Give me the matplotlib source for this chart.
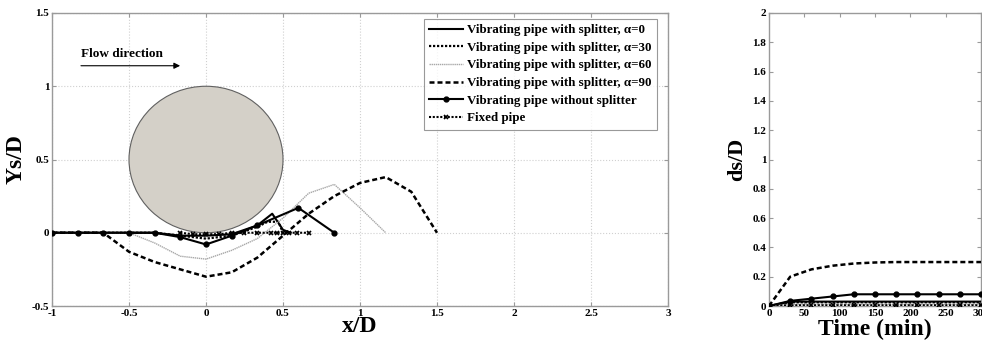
import matplotlib
matplotlib.use("Agg")
import matplotlib.pyplot as plt
from matplotlib.patches import Ellipse

plt.rcParams['font.family'] = ['Liberation Serif', 'DejaVu Serif']
plt.rcParams['font.weight'] = 'bold'
plt.rcParams['axes.unicode_minus'] = False

# ---------------- data: scour profiles ----------------
x_a0 = [-1.0, -0.833, -0.667, -0.5, -0.333, -0.167, 0.0, 0.167, 0.333, 0.43, 0.5, 0.55]
y_a0 = [0.0, 0.0, 0.0, 0.0, 0.0, -0.02, -0.02, -0.01, 0.05, 0.13, 0.02, 0.0]

x_a30 = [-1.0, -0.833, -0.667, -0.5, -0.333, -0.167, 0.0, 0.167, 0.333, 0.4, 0.47, 0.5]
y_a30 = [0.0, 0.0, 0.0, 0.0, 0.0, -0.02, -0.04, -0.02, 0.04, 0.075, 0.075, 0.0]

x_a60 = [-1.0, -0.833, -0.667, -0.5, -0.333, -0.167, 0.0, 0.167, 0.333, 0.5, 0.667, 0.833, 1.0, 1.167]
y_a60 = [0.0, 0.0, 0.0, 0.0, -0.07, -0.16, -0.18, -0.12, -0.04, 0.10, 0.27, 0.33, 0.17, 0.0]

x_a90 = [-1.0, -0.833, -0.667, -0.5, -0.333, -0.167, 0.0, 0.167, 0.333, 0.5, 0.667, 0.833, 1.0, 1.167, 1.333, 1.5]
y_a90 = [0.0, 0.0, 0.0, -0.13, -0.20, -0.25, -0.30, -0.27, -0.17, -0.02, 0.13, 0.25, 0.34, 0.38, 0.28, 0.0]

x_nosp = [-1.0, -0.833, -0.667, -0.5, -0.333, -0.167, 0.0, 0.167, 0.333, 0.6, 0.833]
y_nosp = [0.0, 0.0, 0.0, 0.0, 0.0, -0.03, -0.08, -0.02, 0.05, 0.17, 0.0]

x_fix = [-0.167, -0.083, 0.0, 0.083, 0.167, 0.25, 0.333, 0.42, 0.46, 0.5, 0.54, 0.59, 0.667]
y_fix = [0.0, -0.01, -0.01, -0.01, 0.0, 0.0, 0.0, 0.0, 0.0, 0.0, 0.0, 0.0, 0.0]

# ---------------- data: scour depth vs time ----------------
t = [0, 30, 60, 90, 120, 150, 180, 210, 240, 270, 300]
d_a0 = [0.0, 0.03, 0.03, 0.03, 0.03, 0.03, 0.03, 0.03, 0.03, 0.03, 0.03]
d_a30 = [0.0, 0.025, 0.025, 0.025, 0.025, 0.025, 0.025, 0.025, 0.025, 0.025, 0.025]
d_a60 = [0.0, 0.012, 0.012, 0.012, 0.012, 0.012, 0.012, 0.012, 0.012, 0.012, 0.012]
d_a90 = [0.0, 0.20, 0.25, 0.275, 0.29, 0.297, 0.30, 0.30, 0.30, 0.30, 0.30]
d_nosp = [0.0, 0.035, 0.05, 0.065, 0.08, 0.08, 0.08, 0.08, 0.08, 0.08, 0.08]
d_fix = [0.0, 0.005, 0.005, 0.005, 0.005, 0.005, 0.005, 0.005, 0.005, 0.005, 0.005]

labels = ['Vibrating pipe with splitter, \u03b1=0',
          'Vibrating pipe with splitter, \u03b1=30',
          'Vibrating pipe with splitter, \u03b1=60',
          'Vibrating pipe with splitter, \u03b1=90',
          'Vibrating pipe without splitter',
          'Fixed pipe']

styles = [
    dict(color='black', lw=1.5, ls='-'),
    dict(color='black', lw=1.6, ls=(0, (1, 0.8))),
    dict(color='#a8a8a8', lw=1.0, ls=(0, (1, 0.5))),
    dict(color='black', lw=1.8, ls=(0, (2, 1.2))),
    dict(color='black', lw=1.5, ls='-', marker='o', ms=3.5),
    dict(color='black', lw=1.5, ls=(0, (1, 0.8)), marker='x', ms=3.5, mew=1.2),
]

W, H = 982, 342
fig = plt.figure(figsize=(W / 100, H / 100), dpi=100)

spine_col = '#9a9a9a'

def style_axes(ax):
    for s in ax.spines.values():
        s.set_color(spine_col)
        s.set_linewidth(1.0)
    ax.tick_params(direction='in', length=3, width=0.8, color=spine_col,
                   top=True, right=True, labelsize=8, pad=2)
    for lab in ax.get_xticklabels() + ax.get_yticklabels():
        lab.set_fontweight('bold')

# left axes
ax1 = fig.add_axes([52 / W, 1 - 306 / H, (668 - 52) / W, (306 - 13) / H])
ax1.add_patch(Ellipse((0, 0.5), 1.0, 1.0, facecolor='#d4d0c8', edgecolor='#606060', lw=0.8, zorder=1))
xs = [x_a0, x_a30, x_a60, x_a90, x_nosp, x_fix]
ys = [y_a0, y_a30, y_a60, y_a90, y_nosp, y_fix]
for xx, yy, st, lb in zip(xs, ys, styles, labels):
    ax1.plot(xx, yy, label=lb, zorder=3, **st)
ax1.set_xlim(-1, 3)
ax1.set_ylim(-0.5, 1.5)
ax1.set_xticks([-1, -0.5, 0, 0.5, 1, 1.5, 2, 2.5, 3])
ax1.set_xticklabels(['-1', '-0.5', '0', '0.5', '1', '1.5', '2', '2.5', '3'])
ax1.set_yticks([-0.5, 0, 0.5, 1, 1.5])
ax1.set_yticklabels(['-0.5', '0', '0.5', '1', '1.5'])
ax1.grid(True, color='#d0d0d0', ls=':', lw=0.8)
ax1.set_axisbelow(True)
style_axes(ax1)
ax1.set_xlabel('x/D', fontsize=17, fontweight='bold', labelpad=-1)
ax1.set_ylabel('Ys/D', fontsize=17, fontweight='bold', labelpad=4)
leg = ax1.legend(loc='upper right', bbox_to_anchor=(0.9825, 0.98),
                 prop={'weight': 'bold', 'size': 9.4}, frameon=True, fancybox=False,
                 edgecolor='#808080', handlelength=2.6, handletextpad=0.35,
                 labelspacing=0.42, borderpad=0.4, borderaxespad=0)
leg.get_frame().set_linewidth(0.8)
ax1.text(-0.81, 1.22, 'Flow direction', fontsize=9.5, fontweight='bold', va='center', ha='left')
ax1.annotate('', xy=(-0.15, 1.14), xytext=(-0.83, 1.14),
             arrowprops=dict(arrowstyle='-|>', color='black', lw=0.8, mutation_scale=9))

# right axes
ax2 = fig.add_axes([769 / W, 1 - 306 / H, (981 - 769) / W, (306 - 13) / H])
ds = [d_a0, d_a30, d_a60, d_a90, d_nosp, d_fix]
for dd, st in zip(ds, styles):
    ax2.plot(t, dd, zorder=3, **st)
ax2.set_xlim(0, 300)
ax2.set_ylim(0, 2)
ax2.set_xticks([0, 50, 100, 150, 200, 250, 300])
ax2.set_yticks([0, 0.2, 0.4, 0.6, 0.8, 1, 1.2, 1.4, 1.6, 1.8, 2])
ax2.set_yticklabels(['0', '0.2', '0.4', '0.6', '0.8', '1', '1.2', '1.4', '1.6', '1.8', '2'])
style_axes(ax2)
ax2.set_xlabel('Time (min)', fontsize=17, fontweight='bold', labelpad=0.5)
ax2.set_ylabel('ds/D', fontsize=16, fontweight='bold', labelpad=4)

fig.savefig('out.png', dpi=100)
